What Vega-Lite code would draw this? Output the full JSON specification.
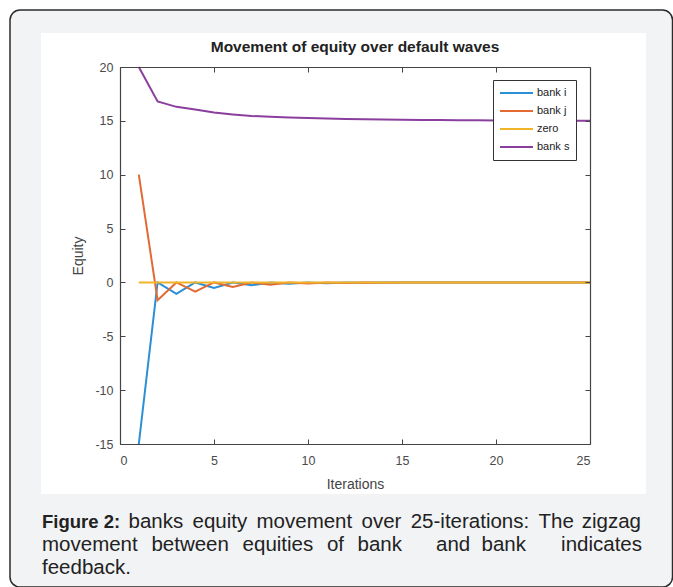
{
  "$schema": "https://vega.github.io/schema/vega-lite/v6.json",
  "width": 470,
  "height": 377,
  "autosize": {"type": "none"},
  "padding": {"left": 120, "top": 67, "right": 83, "bottom": 143},
  "background": "#ffffff",
  "config": {
    "view": {"stroke": null},
    "font": "Liberation Sans",
    "axis": {
      "grid": false,
      "domainColor": "#444444",
      "domainWidth": 1.2,
      "tickColor": "#444444",
      "tickSize": -5,
      "tickWidth": 1,
      "labelFont": "Liberation Sans",
      "labelFontSize": 12.5,
      "labelColor": "#4a4a4a",
      "labelExpr": "'' + datum.value",
      "titleFont": "Liberation Sans",
      "titleFontSize": 14,
      "titleFontWeight": "normal",
      "titleColor": "#444444"
    },
    "legend": {
      "orient": "none",
      "legendX": 373,
      "legendY": 13,
      "strokeColor": "#333333",
      "fillColor": "#ffffff",
      "padding": 6,
      "symbolType": "stroke",
      "symbolSize": 1089,
      "symbolStrokeWidth": 2,
      "clipHeight": 14,
      "labelFont": "Liberation Sans",
      "labelFontSize": 11,
      "labelColor": "#222222",
      "labelOffset": 3,
      "rowPadding": 4
    }
  },
  "title": {
    "text": "Movement of equity over default waves",
    "font": "Liberation Sans",
    "fontSize": 15.5,
    "fontWeight": "bold",
    "color": "#222222",
    "anchor": "middle",
    "frame": "group",
    "offset": 0,
    "dy": 46
  },
  "datasets": {
    "equity": [
      {"iter": 1, "series": "bank i", "equity": -15},
      {"iter": 2, "series": "bank i", "equity": 0},
      {"iter": 3, "series": "bank i", "equity": -1.05},
      {"iter": 4, "series": "bank i", "equity": 0},
      {"iter": 5, "series": "bank i", "equity": -0.52},
      {"iter": 6, "series": "bank i", "equity": 0},
      {"iter": 7, "series": "bank i", "equity": -0.26},
      {"iter": 8, "series": "bank i", "equity": 0},
      {"iter": 9, "series": "bank i", "equity": -0.13},
      {"iter": 10, "series": "bank i", "equity": 0},
      {"iter": 11, "series": "bank i", "equity": -0.065},
      {"iter": 12, "series": "bank i", "equity": 0},
      {"iter": 13, "series": "bank i", "equity": -0.033},
      {"iter": 14, "series": "bank i", "equity": 0},
      {"iter": 15, "series": "bank i", "equity": -0.016},
      {"iter": 16, "series": "bank i", "equity": 0},
      {"iter": 17, "series": "bank i", "equity": -0.008},
      {"iter": 18, "series": "bank i", "equity": 0},
      {"iter": 19, "series": "bank i", "equity": -0.004},
      {"iter": 20, "series": "bank i", "equity": 0},
      {"iter": 21, "series": "bank i", "equity": -0.002},
      {"iter": 22, "series": "bank i", "equity": 0},
      {"iter": 23, "series": "bank i", "equity": -0.001},
      {"iter": 24, "series": "bank i", "equity": 0},
      {"iter": 25, "series": "bank i", "equity": 0},
      {"iter": 1, "series": "bank j", "equity": 10},
      {"iter": 2, "series": "bank j", "equity": -1.65},
      {"iter": 3, "series": "bank j", "equity": 0},
      {"iter": 4, "series": "bank j", "equity": -0.85},
      {"iter": 5, "series": "bank j", "equity": 0},
      {"iter": 6, "series": "bank j", "equity": -0.43},
      {"iter": 7, "series": "bank j", "equity": 0},
      {"iter": 8, "series": "bank j", "equity": -0.22},
      {"iter": 9, "series": "bank j", "equity": 0},
      {"iter": 10, "series": "bank j", "equity": -0.11},
      {"iter": 11, "series": "bank j", "equity": 0},
      {"iter": 12, "series": "bank j", "equity": -0.055},
      {"iter": 13, "series": "bank j", "equity": 0},
      {"iter": 14, "series": "bank j", "equity": -0.028},
      {"iter": 15, "series": "bank j", "equity": 0},
      {"iter": 16, "series": "bank j", "equity": -0.014},
      {"iter": 17, "series": "bank j", "equity": 0},
      {"iter": 18, "series": "bank j", "equity": -0.007},
      {"iter": 19, "series": "bank j", "equity": 0},
      {"iter": 20, "series": "bank j", "equity": -0.004},
      {"iter": 21, "series": "bank j", "equity": 0},
      {"iter": 22, "series": "bank j", "equity": -0.002},
      {"iter": 23, "series": "bank j", "equity": 0},
      {"iter": 24, "series": "bank j", "equity": -0.001},
      {"iter": 25, "series": "bank j", "equity": 0},
      {"iter": 1, "series": "zero", "equity": 0},
      {"iter": 2, "series": "zero", "equity": 0},
      {"iter": 3, "series": "zero", "equity": 0},
      {"iter": 4, "series": "zero", "equity": 0},
      {"iter": 5, "series": "zero", "equity": 0},
      {"iter": 6, "series": "zero", "equity": 0},
      {"iter": 7, "series": "zero", "equity": 0},
      {"iter": 8, "series": "zero", "equity": 0},
      {"iter": 9, "series": "zero", "equity": 0},
      {"iter": 10, "series": "zero", "equity": 0},
      {"iter": 11, "series": "zero", "equity": 0},
      {"iter": 12, "series": "zero", "equity": 0},
      {"iter": 13, "series": "zero", "equity": 0},
      {"iter": 14, "series": "zero", "equity": 0},
      {"iter": 15, "series": "zero", "equity": 0},
      {"iter": 16, "series": "zero", "equity": 0},
      {"iter": 17, "series": "zero", "equity": 0},
      {"iter": 18, "series": "zero", "equity": 0},
      {"iter": 19, "series": "zero", "equity": 0},
      {"iter": 20, "series": "zero", "equity": 0},
      {"iter": 21, "series": "zero", "equity": 0},
      {"iter": 22, "series": "zero", "equity": 0},
      {"iter": 23, "series": "zero", "equity": 0},
      {"iter": 24, "series": "zero", "equity": 0},
      {"iter": 25, "series": "zero", "equity": 0},
      {"iter": 1, "series": "bank s", "equity": 20},
      {"iter": 2, "series": "bank s", "equity": 16.8},
      {"iter": 3, "series": "bank s", "equity": 16.3},
      {"iter": 4, "series": "bank s", "equity": 16.05},
      {"iter": 5, "series": "bank s", "equity": 15.78},
      {"iter": 6, "series": "bank s", "equity": 15.6},
      {"iter": 7, "series": "bank s", "equity": 15.45},
      {"iter": 8, "series": "bank s", "equity": 15.38},
      {"iter": 9, "series": "bank s", "equity": 15.32},
      {"iter": 10, "series": "bank s", "equity": 15.27},
      {"iter": 11, "series": "bank s", "equity": 15.22},
      {"iter": 12, "series": "bank s", "equity": 15.18},
      {"iter": 13, "series": "bank s", "equity": 15.15},
      {"iter": 14, "series": "bank s", "equity": 15.12},
      {"iter": 15, "series": "bank s", "equity": 15.1},
      {"iter": 16, "series": "bank s", "equity": 15.08},
      {"iter": 17, "series": "bank s", "equity": 15.07},
      {"iter": 18, "series": "bank s", "equity": 15.06},
      {"iter": 19, "series": "bank s", "equity": 15.05},
      {"iter": 20, "series": "bank s", "equity": 15.04},
      {"iter": 21, "series": "bank s", "equity": 15.03},
      {"iter": 22, "series": "bank s", "equity": 15.02},
      {"iter": 23, "series": "bank s", "equity": 15.02},
      {"iter": 24, "series": "bank s", "equity": 15.01},
      {"iter": 25, "series": "bank s", "equity": 15.0}
    ]
  },
  "resolve": {"axis": {"x": "independent", "y": "independent"}},
  "layer": [
    {
      "data": {"values": [{}]},
      "mark": {"type": "rect", "fill": "#f2f3f5", "stroke": "#2b2b2b", "strokeWidth": 1.5, "cornerRadius": 10},
      "encoding": {
        "x": {"datum": -5.851, "type": "quantitative", "scale": {"domain": [0, 25], "nice": false, "zero": false}, "axis": null},
        "x2": {"datum": 29.39},
        "y": {"datum": 25.29, "type": "quantitative", "scale": {"domain": [-15, 20], "nice": false, "zero": false}, "axis": null},
        "y2": {"datum": -28.28}
      }
    },
    {
      "data": {"values": [{}]},
      "mark": {"type": "rect", "fill": "#ffffff"},
      "encoding": {
        "x": {"datum": -4.202, "type": "quantitative", "scale": {"domain": [0, 25], "nice": false, "zero": false}, "axis": null},
        "x2": {"datum": 27.979},
        "y": {"datum": 23.155, "type": "quantitative", "scale": {"domain": [-15, 20], "nice": false, "zero": false}, "axis": null},
        "y2": {"datum": -19.646}
      }
    },
    {
      "data": {"name": "equity"},
      "mark": {"type": "line", "strokeWidth": 2},
      "encoding": {
        "x": {"field": "iter", "type": "quantitative", "scale": {"domain": [0, 25], "nice": false, "zero": false},
              "axis": {"orient": "bottom", "zindex": 1, "title": "Iterations", "values": [0, 5, 10, 15, 20, 25], "labelPadding": 15, "titlePadding": 11}},
        "y": {"field": "equity", "type": "quantitative", "scale": {"domain": [-15, 20], "nice": false, "zero": false},
              "axis": {"orient": "left", "zindex": 1, "title": "Equity", "values": [-15, -10, -5, 0, 5, 10, 15, 20], "labelPadding": 12, "titlePadding": 9}},
        "color": {"field": "series", "type": "nominal",
                  "scale": {"domain": ["bank i", "bank j", "zero", "bank s"], "range": ["#2b8fd6", "#e36a33", "#f0b429", "#8a3f9e"]},
                  "legend": {"title": null}}
      }
    },
    {
      "data": {"name": "equity"},
      "mark": {"type": "point", "opacity": 0},
      "encoding": {
        "x": {"field": "iter", "type": "quantitative", "scale": {"domain": [0, 25], "nice": false, "zero": false},
              "axis": {"orient": "top", "zindex": 1, "title": null, "labels": false, "values": [0, 5, 10, 15, 20, 25]}},
        "y": {"field": "equity", "type": "quantitative", "scale": {"domain": [-15, 20], "nice": false, "zero": false},
              "axis": {"orient": "right", "zindex": 1, "title": null, "labels": false, "values": [-15, -10, -5, 0, 5, 10, 15, 20]}}
      }
    },
    {
      "data": {"values": [{}]},
      "mark": {"type": "text", "align": "left", "baseline": "alphabetic", "font": "Liberation Sans", "fontSize": 18.5, "fontWeight": "bold", "color": "#222222"},
      "encoding": {
        "x": {"datum": -4.149, "type": "quantitative", "scale": {"domain": [0, 25], "nice": false, "zero": false}, "axis": null},
        "y": {"datum": -22.8, "type": "quantitative", "scale": {"domain": [-15, 20], "nice": false, "zero": false}, "axis": null},
        "text": {"value": "Figure 2:"}
      }
    },
    {"data": {"values": [{}]}, "mark": {"type": "text", "align": "left", "baseline": "alphabetic", "font": "Liberation Sans", "fontSize": 20.5, "color": "#222222"},
     "encoding": {"x": {"datum": 0.452, "type": "quantitative", "scale": {"domain": [0, 25], "nice": false, "zero": false}, "axis": null},
                  "y": {"datum": -22.8, "type": "quantitative", "scale": {"domain": [-15, 20], "nice": false, "zero": false}, "axis": null},
                  "text": {"value": "banks"}}},
    {"data": {"values": [{}]}, "mark": {"type": "text", "align": "left", "baseline": "alphabetic", "font": "Liberation Sans", "fontSize": 20.5, "color": "#222222"},
     "encoding": {"x": {"datum": 3.856, "type": "quantitative", "scale": {"domain": [0, 25], "nice": false, "zero": false}, "axis": null},
                  "y": {"datum": -22.8, "type": "quantitative", "scale": {"domain": [-15, 20], "nice": false, "zero": false}, "axis": null},
                  "text": {"value": "equity"}}},
    {"data": {"values": [{}]}, "mark": {"type": "text", "align": "left", "baseline": "alphabetic", "font": "Liberation Sans", "fontSize": 20.5, "color": "#222222"},
     "encoding": {"x": {"datum": 7.261, "type": "quantitative", "scale": {"domain": [0, 25], "nice": false, "zero": false}, "axis": null},
                  "y": {"datum": -22.8, "type": "quantitative", "scale": {"domain": [-15, 20], "nice": false, "zero": false}, "axis": null},
                  "text": {"value": "movement"}}},
    {"data": {"values": [{}]}, "mark": {"type": "text", "align": "left", "baseline": "alphabetic", "font": "Liberation Sans", "fontSize": 20.5, "color": "#222222"},
     "encoding": {"x": {"datum": 12.846, "type": "quantitative", "scale": {"domain": [0, 25], "nice": false, "zero": false}, "axis": null},
                  "y": {"datum": -22.8, "type": "quantitative", "scale": {"domain": [-15, 20], "nice": false, "zero": false}, "axis": null},
                  "text": {"value": "over"}}},
    {"data": {"values": [{}]}, "mark": {"type": "text", "align": "left", "baseline": "alphabetic", "font": "Liberation Sans", "fontSize": 20.5, "color": "#222222"},
     "encoding": {"x": {"datum": 15.463, "type": "quantitative", "scale": {"domain": [0, 25], "nice": false, "zero": false}, "axis": null},
                  "y": {"datum": -22.8, "type": "quantitative", "scale": {"domain": [-15, 20], "nice": false, "zero": false}, "axis": null},
                  "text": {"value": "25-iterations:"}}},
    {"data": {"values": [{}]}, "mark": {"type": "text", "align": "left", "baseline": "alphabetic", "font": "Liberation Sans", "fontSize": 20.5, "color": "#222222"},
     "encoding": {"x": {"datum": 22.261, "type": "quantitative", "scale": {"domain": [0, 25], "nice": false, "zero": false}, "axis": null},
                  "y": {"datum": -22.8, "type": "quantitative", "scale": {"domain": [-15, 20], "nice": false, "zero": false}, "axis": null},
                  "text": {"value": "The"}}},
    {"data": {"values": [{}]}, "mark": {"type": "text", "align": "right", "baseline": "alphabetic", "font": "Liberation Sans", "fontSize": 20.5, "color": "#222222"},
     "encoding": {"x": {"datum": 27.713, "type": "quantitative", "scale": {"domain": [0, 25], "nice": false, "zero": false}, "axis": null},
                  "y": {"datum": -22.8, "type": "quantitative", "scale": {"domain": [-15, 20], "nice": false, "zero": false}, "axis": null},
                  "text": {"value": "zigzag"}}},
    {"data": {"values": [{}]}, "mark": {"type": "text", "align": "left", "baseline": "alphabetic", "font": "Liberation Sans", "fontSize": 20.5, "color": "#222222"},
     "encoding": {"x": {"datum": -4.149, "type": "quantitative", "scale": {"domain": [0, 25], "nice": false, "zero": false}, "axis": null},
                  "y": {"datum": -24.94, "type": "quantitative", "scale": {"domain": [-15, 20], "nice": false, "zero": false}, "axis": null},
                  "text": {"value": "movement"}}},
    {"data": {"values": [{}]}, "mark": {"type": "text", "align": "left", "baseline": "alphabetic", "font": "Liberation Sans", "fontSize": 20.5, "color": "#222222"},
     "encoding": {"x": {"datum": 1.67, "type": "quantitative", "scale": {"domain": [0, 25], "nice": false, "zero": false}, "axis": null},
                  "y": {"datum": -24.94, "type": "quantitative", "scale": {"domain": [-15, 20], "nice": false, "zero": false}, "axis": null},
                  "text": {"value": "between"}}},
    {"data": {"values": [{}]}, "mark": {"type": "text", "align": "left", "baseline": "alphabetic", "font": "Liberation Sans", "fontSize": 20.5, "color": "#222222"},
     "encoding": {"x": {"datum": 6.521, "type": "quantitative", "scale": {"domain": [0, 25], "nice": false, "zero": false}, "axis": null},
                  "y": {"datum": -24.94, "type": "quantitative", "scale": {"domain": [-15, 20], "nice": false, "zero": false}, "axis": null},
                  "text": {"value": "equities"}}},
    {"data": {"values": [{}]}, "mark": {"type": "text", "align": "left", "baseline": "alphabetic", "font": "Liberation Sans", "fontSize": 20.5, "color": "#222222"},
     "encoding": {"x": {"datum": 11.006, "type": "quantitative", "scale": {"domain": [0, 25], "nice": false, "zero": false}, "axis": null},
                  "y": {"datum": -24.94, "type": "quantitative", "scale": {"domain": [-15, 20], "nice": false, "zero": false}, "axis": null},
                  "text": {"value": "of"}}},
    {"data": {"values": [{}]}, "mark": {"type": "text", "align": "right", "baseline": "alphabetic", "font": "Liberation Sans", "fontSize": 20.5, "color": "#222222"},
     "encoding": {"x": {"datum": 15.0, "type": "quantitative", "scale": {"domain": [0, 25], "nice": false, "zero": false}, "axis": null},
                  "y": {"datum": -24.94, "type": "quantitative", "scale": {"domain": [-15, 20], "nice": false, "zero": false}, "axis": null},
                  "text": {"value": "bank"}}},
    {"data": {"values": [{}]}, "mark": {"type": "text", "align": "left", "baseline": "alphabetic", "font": "Liberation Sans", "fontSize": 20.5, "color": "#222222"},
     "encoding": {"x": {"datum": 16.809, "type": "quantitative", "scale": {"domain": [0, 25], "nice": false, "zero": false}, "axis": null},
                  "y": {"datum": -24.94, "type": "quantitative", "scale": {"domain": [-15, 20], "nice": false, "zero": false}, "axis": null},
                  "text": {"value": "and"}}},
    {"data": {"values": [{}]}, "mark": {"type": "text", "align": "right", "baseline": "alphabetic", "font": "Liberation Sans", "fontSize": 20.5, "color": "#222222"},
     "encoding": {"x": {"datum": 21.596, "type": "quantitative", "scale": {"domain": [0, 25], "nice": false, "zero": false}, "axis": null},
                  "y": {"datum": -24.94, "type": "quantitative", "scale": {"domain": [-15, 20], "nice": false, "zero": false}, "axis": null},
                  "text": {"value": "bank"}}},
    {"data": {"values": [{}]}, "mark": {"type": "text", "align": "right", "baseline": "alphabetic", "font": "Liberation Sans", "fontSize": 20.5, "color": "#222222"},
     "encoding": {"x": {"datum": 27.766, "type": "quantitative", "scale": {"domain": [0, 25], "nice": false, "zero": false}, "axis": null},
                  "y": {"datum": -24.94, "type": "quantitative", "scale": {"domain": [-15, 20], "nice": false, "zero": false}, "axis": null},
                  "text": {"value": "indicates"}}},
    {"data": {"values": [{}]}, "mark": {"type": "text", "align": "left", "baseline": "alphabetic", "font": "Liberation Sans", "fontSize": 20.5, "color": "#222222"},
     "encoding": {"x": {"datum": -4.149, "type": "quantitative", "scale": {"domain": [0, 25], "nice": false, "zero": false}, "axis": null},
                  "y": {"datum": -27.08, "type": "quantitative", "scale": {"domain": [-15, 20], "nice": false, "zero": false}, "axis": null},
                  "text": {"value": "feedback."}}}
  ]
}
